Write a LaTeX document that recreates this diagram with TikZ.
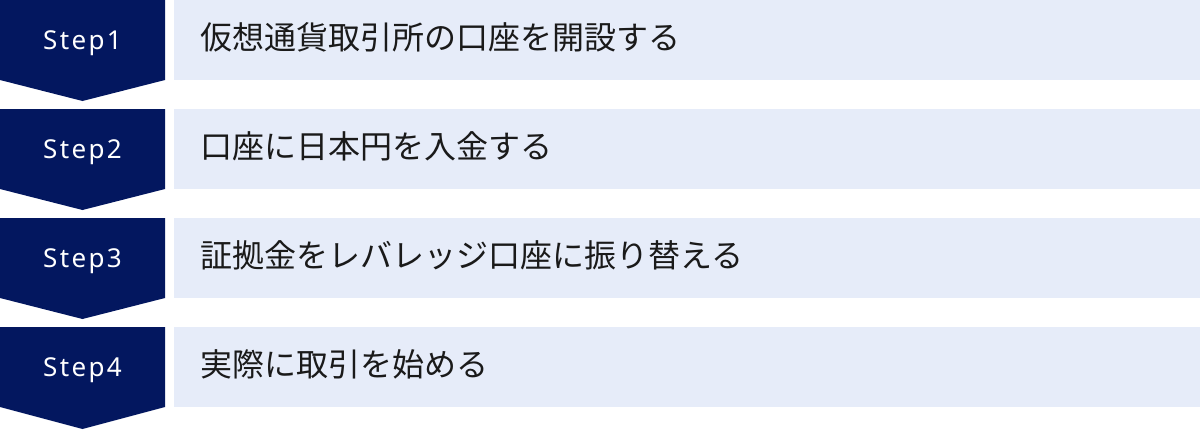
\documentclass[tikz,border=0pt]{standalone}
\usepackage{fontspec}
\setmainfont{Noto Sans}
\newfontfamily\jpfont{Noto Sans CJK JP}
\newfontfamily\stepfont[LetterSpace=9]{Noto Sans}
\usepackage{tikz}
\usetikzlibrary{positioning,calc}
\definecolor{navy}{HTML}{03175F}
\definecolor{barblue}{HTML}{E6ECF9}
\definecolor{ink}{HTML}{1A1A1A}

\begin{document}
\begin{tikzpicture}[x=1pt, y=-1pt,
    steplabel/.style={anchor=base, text=white, inner sep=0pt, font=\stepfont\fontsize{26}{30}\selectfont},
    bartext/.style={anchor=base west, text=ink, inner sep=0pt, font=\jpfont\fontsize{32}{38}\selectfont}]
    \useasboundingbox (0,0) rectangle (1200,429);

    % Step 1
    \fill[navy] (0,0) -- (165,0) -- (165,80) -- (82.5,101) -- (0,80) -- cycle;
    \fill[barblue] (174,0) rectangle (1200,80);
    \node[steplabel] (s1) at (82.5,49) {Step1};
    \node[bartext] (t1) at (200,49) {仮想通貨取引所の口座を開設する};

    % Step 2
    \fill[navy] (0,109) -- (165,109) -- (165,189) -- (82.5,210) -- (0,189) -- cycle;
    \fill[barblue] (174,109) rectangle (1200,189);
    \node[steplabel] (s2) at (82.5,158) {Step2};
    \node[bartext] (t2) at (200,158) {口座に日本円を入金する};

    % Step 3
    \fill[navy] (0,218) -- (165,218) -- (165,298) -- (82.5,319) -- (0,298) -- cycle;
    \fill[barblue] (174,218) rectangle (1200,298);
    \node[steplabel] (s3) at (82.5,267) {Step3};
    \node[bartext] (t3) at (200,267) {証拠金をレバレッジ口座に振り替える};

    % Step 4
    \fill[navy] (0,327) -- (165,327) -- (165,407) -- (82.5,429) -- (0,407) -- cycle;
    \fill[barblue] (174,327) rectangle (1200,407);
    \node[steplabel] (s4) at (82.5,376) {Step4};
    \node[bartext] (t4) at (200,376) {実際に取引を始める};
\end{tikzpicture}
\end{document}
